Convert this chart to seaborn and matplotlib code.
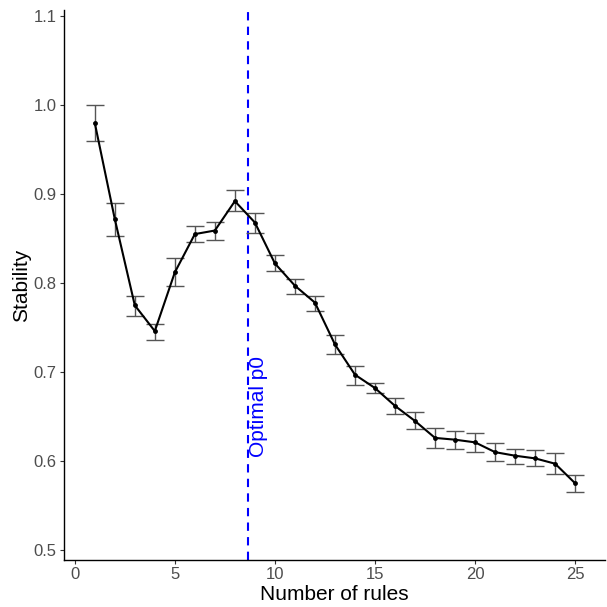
import matplotlib
matplotlib.use("Agg")
import matplotlib.pyplot as plt
import seaborn as sns
import numpy as np
import pandas as pd

rules = list(range(1, 26))
stability = [0.980, 0.872, 0.775, 0.746, 0.812, 0.855, 0.859, 0.892, 0.868, 0.822,
             0.797, 0.778, 0.731, 0.697, 0.682, 0.662, 0.645, 0.626, 0.624, 0.621,
             0.610, 0.606, 0.603, 0.597, 0.575]
err_low = [0.960, 0.853, 0.763, 0.736, 0.797, 0.846, 0.848, 0.881, 0.856, 0.813,
           0.788, 0.769, 0.720, 0.686, 0.677, 0.653, 0.636, 0.615, 0.613, 0.610,
           0.600, 0.597, 0.594, 0.586, 0.565]
err_high = [1.000, 0.890, 0.785, 0.754, 0.828, 0.864, 0.869, 0.904, 0.879, 0.831,
            0.804, 0.785, 0.742, 0.707, 0.688, 0.671, 0.655, 0.637, 0.634, 0.632,
            0.620, 0.614, 0.612, 0.609, 0.584]
optimal_x = 8.65
optimal_label = "Optimal p0"
x_ticks = [0, 5, 10, 15, 20, 25]
y_ticks = [0.5, 0.6, 0.7, 0.8, 0.9, 1.0, 1.1]

df = pd.DataFrame({"rules": rules, "stability": stability,
                   "low": err_low, "high": err_high})

sns.set_style("ticks")
plt.rcParams['font.family'] = ['Liberation Sans', 'DejaVu Sans']

fig = plt.figure(figsize=(6.07, 6.07), dpi=100)
ax = fig.add_axes([0.105, 0.0774, 0.892, 0.906])

yerr = np.vstack([df["stability"] - df["low"], df["high"] - df["stability"]])
ax.errorbar(df["rules"], df["stability"], yerr=yerr, fmt="none",
            ecolor="#555555", elinewidth=1.0, capsize=6.8, capthick=1.0, zorder=2)
sns.lineplot(data=df, x="rules", y="stability", ax=ax, color="black",
             linewidth=1.5, marker="o", markersize=3.5, markeredgewidth=0,
             zorder=3)

ax.axvline(optimal_x, color="blue", linestyle=(0, (4, 3)), linewidth=1.5, zorder=1)
ax.text(optimal_x + 0.52, 0.661, optimal_label, rotation=90, color="blue",
        fontsize=15, ha="center", va="center")

ax.set_xlim(-0.55, 26.5)
ax.set_ylim(0.4888, 1.1067)
ax.set_xticks(x_ticks)
ax.set_yticks(y_ticks)
ax.set_yticklabels([f"{v:.1f}" for v in y_ticks])
ax.set_xlabel("Number of rules", fontsize=15, color="black", labelpad=2)
ax.set_ylabel("Stability", fontsize=15, color="black", labelpad=2)
ax.tick_params(axis="both", labelsize=12, labelcolor="#4d4d4d", color="#333333",
               length=3, width=0.8, pad=2)
for s in ["top", "right"]:
    ax.spines[s].set_visible(False)
for s in ["left", "bottom"]:
    ax.spines[s].set_color("black")
    ax.spines[s].set_linewidth(1.0)

fig.savefig("out.png", dpi=100)
